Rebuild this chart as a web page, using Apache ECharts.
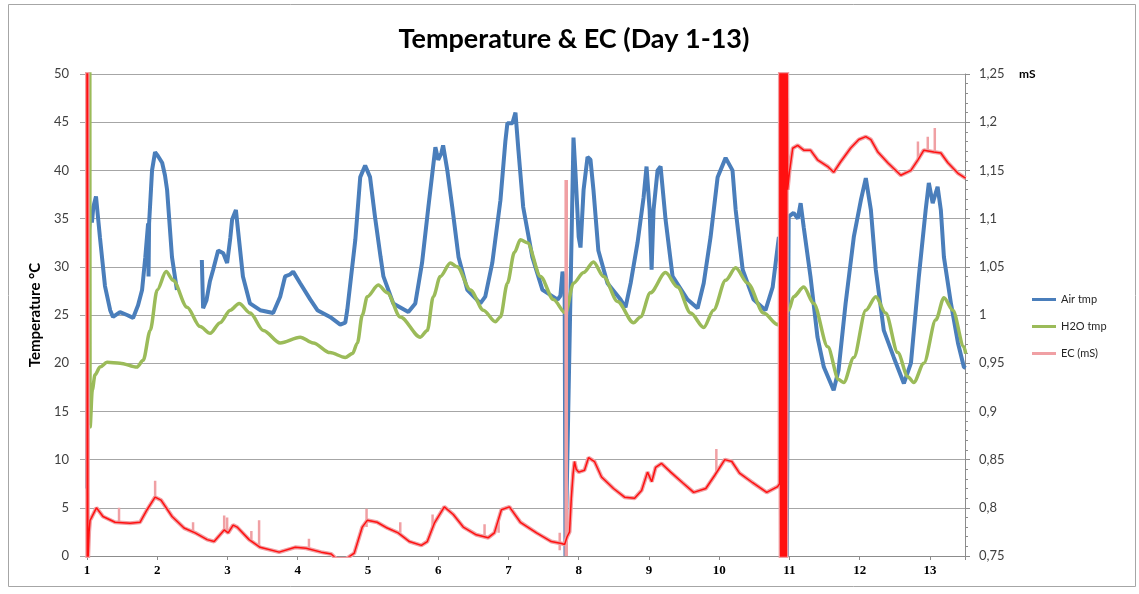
<!DOCTYPE html>
<html><head><meta charset="utf-8">
<script src="https://cdn.jsdelivr.net/npm/echarts@6/dist/echarts.min.js"></script>
<style>html,body{margin:0;padding:0;background:#fff}#c{width:1139px;height:594px}</style>
</head><body><div id="c"></div><script>
// ---- data (days on x, °C on left axis, mS on right axis) ----
const dayLabels = ['1','2','3','4','5','6','7','8','9','10','11','12','13'];

const airDays = [1.000,1.004,1.03,1.05,1.07,1.09,1.128,1.185,1.256,1.33,
1.37,1.47,1.57,1.656,1.727,1.784,1.83,1.87,1.876,1.884,
1.926,1.969,2.01,2.07,2.11,2.14,2.21,2.28,2.45,2.635,
2.653,2.70,2.75,2.796,2.867,2.94,2.995,3.04,3.066,3.12,
3.15,3.22,3.32,3.465,3.65,3.75,3.82,3.89,3.935,4.035,
4.18,4.28,4.46,4.606,4.677,4.705,4.76,4.82,4.89,4.96,
5.03,5.10,5.18,5.22,5.36,5.575,5.674,5.77,5.86,5.96,
6.00,6.045,6.07,6.13,6.20,6.29,6.415,6.60,6.67,6.77,
6.886,6.956,6.985,7.057,7.10,7.142,7.21,7.34,7.484,7.70,
7.74,7.77,7.80,7.812,7.926,7.955,8.0,8.026,8.07,8.126,
8.168,8.21,8.28,8.41,8.596,8.667,8.74,8.838,8.924,8.966,
9.01,9.038,9.066,9.123,9.166,9.237,9.337,9.55,9.693,9.78,
9.878,9.978,10.092,10.19,10.235,10.335,10.49,10.66,10.762,10.85,
10.933,10.962,10.99,11.06,11.12,11.16,11.204,11.30,11.40,11.49,
11.63,11.70,11.80,11.917,12.017,12.088,12.16,12.23,12.344,12.486,
12.63,12.73,12.843,12.94,12.985,13.04,13.11,13.156,13.2,13.3,
13.40,13.484,13.51];
const airTemp = [7,13,33.8,35.8,34.6,36.2,37.3,33,28,25.5,
24.8,25.3,25.0,24.7,26,27.6,31,34.5,29,34.5,
40,41.9,41.5,40.8,39.5,38,31,27.6,null,30.7,
25.7,26.5,28.5,29.7,31.7,31.4,30.4,33.0,34.9,35.9,
33.8,29,26.2,25.5,25.2,26.9,29,29.2,29.5,28.3,
26.6,25.5,24.8,24.0,24.2,25.5,29,32.8,39.3,40.5,
39.3,35.2,31,29,26.2,25.3,26.2,30.4,36.2,42.4,
41.1,41.8,42.6,40,36.2,31,27.6,26.2,26.9,30.4,
36.9,43,44.9,44.9,46,42.1,36.2,31,27.6,26.6,
27,29.5,28,0,43.4,39.7,33.1,32,38,41.4,
41.1,38,31.7,28.3,26.6,25.8,28.3,32.5,37.2,40.4,
35.9,29.7,35.9,40,40.4,34.9,29,26.6,25.7,28.3,
33.1,39.3,41.3,40,35.9,29.7,26.6,25.5,27.9,33.1,
30,0,35.2,35.6,35,36.6,34.1,29,22.7,19.6,
17.2,19.3,26.2,33.1,36.9,39.2,35.9,29.7,23.4,20.6,
17.9,20,29,35.9,38.7,36.6,38.3,35.9,31,26.2,
22.1,19.6,19.5];

const h2oDays = [1.04,1.044,1.075,1.114,1.185,1.285,1.47,1.71,1.80,1.90,
2.0,2.126,2.226,2.425,2.61,2.753,2.895,3.04,3.166,3.323,
3.51,3.75,4.035,4.22,4.46,4.677,4.78,4.85,4.92,4.99,
5.147,5.275,5.46,5.745,5.845,5.93,6.03,6.173,6.27,6.458,
6.643,6.815,6.886,6.985,7.085,7.17,7.27,7.456,7.64,7.812,
7.926,8.07,8.21,8.354,8.553,8.78,8.88,9.02,9.237,9.408,
9.594,9.78,9.92,10.092,10.235,10.406,10.634,10.833,10.9,10.99,
11.06,11.204,11.346,11.546,11.70,11.774,11.917,12.088,12.23,12.37,
12.543,12.686,12.77,12.914,13.085,13.2,13.327,13.484,13.51];
const h2oTemp = [52,13.4,17.2,18.8,19.6,20.1,20,19.6,20.3,23.4,
27.6,29.5,28.6,25.8,23.8,23.1,24.2,25.5,26.2,25.2,
23.4,22.1,22.7,22.1,21.1,20.6,21,22.1,25,26.9,
28.1,27.3,24.8,22.7,23.4,26.9,29,30.4,30,27.6,
25.5,24.3,24.8,28.3,31.5,32.8,32.5,29,26.6,25.2,
28.3,29.4,30.5,29,26.4,24.2,24.8,27.3,29.4,27.9,
25.2,23.7,25.5,28.6,29.9,28.3,25.2,24,24.5,25.5,
26.9,27.9,26.2,21.7,18.3,18,20.6,25.5,26.9,25.2,
21.1,18.6,18,20,24.5,26.8,25.5,21.7,21];

const ecDays = [1.000,1.004,1.008,1.012,1.016,1.03,1.043,1.066,1.134,1.228,
1.399,1.613,1.755,1.855,1.969,2.054,2.211,2.382,2.539,2.71,
2.81,2.953,3.01,3.08,3.137,3.308,3.465,3.736,3.964,4.12,
4.334,4.477,4.55,4.69,4.805,4.919,4.99,5.13,5.275,5.43,
5.59,5.76,5.845,5.945,6.087,6.215,6.357,6.542,6.713,6.80,
6.90,7.014,7.17,7.40,7.61,7.755,7.80,7.835,7.87,7.895,
7.92,7.94,7.965,8.0,8.083,8.14,8.225,8.325,8.496,8.653,
8.796,8.896,8.98,9.04,9.096,9.18,9.31,9.48,9.637,9.81,
9.94,10.08,10.18,10.29,10.477,10.677,10.833,10.86,
10.866,10.876,10.886,10.896,10.906,10.916,10.926,10.936,10.946,10.956,10.966,10.975,
11.0,11.047,11.118,11.204,11.30,11.40,11.546,11.63,11.73,11.87,
11.988,12.088,12.16,12.26,12.40,12.586,12.73,12.83,12.914,13.056,
13.156,13.256,13.4,13.484,13.51];
const ecValues = [1.30,0.74,1.30,0.74,0.74,0.775,0.787,0.79,0.80,0.791,
0.785,0.784,0.785,0.798,0.811,0.808,0.791,0.779,0.774,0.767,
0.765,0.777,0.774,0.782,0.78,0.767,0.759,0.754,0.759,0.758,
0.754,0.752,0.747,0.747,0.753,0.78,0.787,0.785,0.779,0.774,
0.765,0.761,0.765,0.784,0.801,0.793,0.78,0.772,0.769,0.774,
0.798,0.801,0.785,0.774,0.765,0.763,0.762,0.77,0.775,0.81,
0.835,0.848,0.84,0.837,0.839,0.852,0.848,0.832,0.82,0.811,
0.81,0.818,0.837,0.827,0.842,0.846,0.837,0.826,0.816,0.82,
0.834,0.85,0.848,0.836,0.826,0.816,0.822,0.825,
1.30,0.70,1.30,0.70,1.30,0.70,1.30,0.70,1.30,0.70,1.30,1.13,
1.148,1.173,1.176,1.171,1.171,1.161,1.154,1.148,1.159,1.173,
1.182,1.185,1.182,1.169,1.158,1.145,1.15,1.161,1.171,1.169,
1.168,1.158,1.147,1.143,1.142];

const spikeDays = [1.456,1.97,2.51,2.953,2.995,3.34,3.45,4.16,4.98,5.46,5.92,6.66,6.86,7.73,7.815,7.83,9.96,12.83,12.97,13.07];
const spikeLow  = [0.785,0.811,0.775,0.777,0.774,0.767,0.76,0.758,0.78,0.774,0.78,0.769,0.774,0.756,0.75,0.75,0.835,1.161,1.171,1.17];
const spikeHigh = [0.80,0.828,0.785,0.792,0.79,0.776,0.787,0.768,0.799,0.785,0.793,0.783,0.79,0.774,1.14,1.14,0.861,1.18,1.185,1.194];

// ---- build ----
const pair = (xs, ys) => xs.map((d, i) => [d, ys[i] == null ? '-' : ys[i]]);
const spikeData = [];
spikeDays.forEach((d, i) => { spikeData.push([d, spikeLow[i]], [d, spikeHigh[i]], [d, '-']); });
const fmtComma = v => String(+(+v).toFixed(2)).replace('.', ',');

const BLUE = '#4a7ebb', GREEN = '#9bbb59', PINK = '#f0a0a4', RED = '#ff1010';
const chart = echarts.init(document.getElementById('c'));
chart.setOption({
  animation: false,
  backgroundColor: '#fff',
  title: {
    text: 'Temperature & EC (Day 1-13)', left: 569, top: 21, textAlign: 'center',
    textStyle: { fontFamily: 'Lato', fontWeight: 'bold', fontSize: 27, color: '#000' }
  },
  legend: {
    data: ['Air tmp', 'H2O tmp', 'EC (mS)'], orient: 'vertical', left: 1027, top: 289,
    icon: 'rect', itemWidth: 24, itemHeight: 3, itemGap: 16,
    textStyle: { fontFamily: 'Lato', fontSize: 11, color: '#262626' }
  },
  grid: { left: 87, right: 174, top: 74, bottom: 38 },
  xAxis: {
    type: 'value', min: 1, max: 13.5, interval: 1,
    axisLine: { lineStyle: { color: '#8c8c8c' } },
    axisTick: { length: 4, lineStyle: { color: '#8c8c8c' } },
    splitLine: { show: false },
    axisLabel: {
      formatter: v => Number.isInteger(v) ? dayLabels[v - 1] : '',
      fontFamily: 'Liberation Serif', fontWeight: 'bold', fontSize: 13, color: '#000', margin: 8
    }
  },
  yAxis: [{
    type: 'value', min: 0, max: 50, interval: 5,
    name: 'Temperature °C', nameLocation: 'middle', nameGap: 40,
    nameTextStyle: { fontFamily: 'Lato', fontWeight: 'bold', fontSize: 15, color: '#000' },
    axisLine: { show: false },
    axisTick: { show: true, length: 7, lineStyle: { color: '#a6a6a6' } },
    splitLine: { lineStyle: { color: '#a6a6a6' } },
    axisLabel: { fontFamily: 'Lato', fontSize: 13, color: '#404040', margin: 18 }
  }, {
    type: 'value', position: 'right', min: 0.75, max: 1.25, interval: 0.05,
    axisLine: { show: true, lineStyle: { color: '#8c8c8c' } },
    axisTick: { show: true, length: 5, lineStyle: { color: '#8c8c8c' } },
    minorTick: { show: true, splitNumber: 5, length: 3, lineStyle: { color: '#8c8c8c' } },
    splitLine: { show: false },
    axisLabel: { formatter: fmtComma, fontFamily: 'Lato', fontSize: 13, color: '#404040', margin: 14 }
  }],
  graphic: [
    { type: 'rect', silent: true, z: -10, shape: { x: 8.5, y: 4.5, width: 1127, height: 582 },
      style: { fill: 'none', stroke: '#a6a6a6', lineWidth: 1 } },
    { type: 'text', x: 1019, y: 68, style: { text: 'mS', font: 'bold 12px Lato', fill: '#000' } }
  ],
  series: [
    { name: 'Air tmp', type: 'line', data: pair(airDays, airTemp), symbol: 'none', showSymbol: false,
      lineStyle: { color: BLUE, width: 4 }, itemStyle: { color: BLUE }, z: 2 },
    { name: 'H2O tmp', type: 'line', data: pair(h2oDays, h2oTemp), symbol: 'none', showSymbol: false,
      smooth: 0.3, smoothMonotone: 'x',
      lineStyle: { color: GREEN, width: 3.5 }, itemStyle: { color: GREEN }, z: 3 },
    { name: 'EC (mS)', type: 'line', yAxisIndex: 1, data: pair(ecDays, ecValues), symbol: 'none', showSymbol: false,
      lineStyle: { color: PINK, width: 4 }, itemStyle: { color: PINK }, z: 4 },
    { name: 'EC spikes', type: 'line', yAxisIndex: 1, data: spikeData, symbol: 'none', showSymbol: false,
      lineStyle: { color: PINK, width: 2.5 }, itemStyle: { color: PINK }, z: 4 },
    { name: 'EC trend', type: 'line', yAxisIndex: 1, data: pair(ecDays, ecValues), symbol: 'none', showSymbol: false,
      lineStyle: { color: RED, width: 1.5 }, itemStyle: { color: RED }, z: 5 }
  ]
});
</script></body></html>
